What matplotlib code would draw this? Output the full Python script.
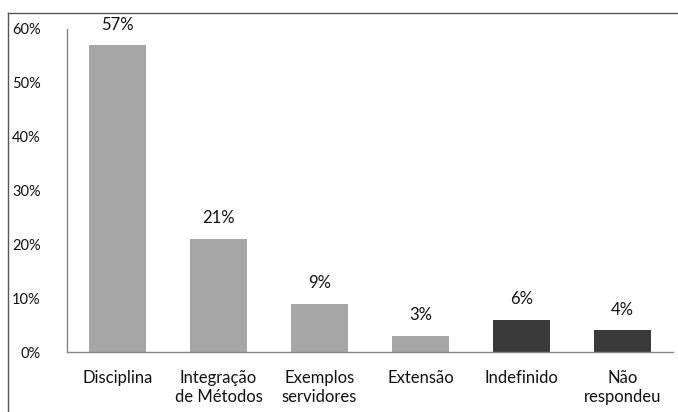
import matplotlib.pyplot as plt
from matplotlib.lines import Line2D
import matplotlib.ticker as ticker

categories = ['Disciplina', 'Integração\nde Métodos', 'Exemplos\nservidores',
              'Extensão', 'Indefinido', 'Não\nrespondeu']
values = [57, 21, 9, 3, 6, 4]
bar_colors = ['#A6A6A6', '#A6A6A6', '#A6A6A6', '#A6A6A6', '#3A3A3A', '#3A3A3A']
y_ticks = [0, 10, 20, 30, 40, 50, 60]

plt.rcParams['font.family'] = ['Lato', 'DejaVu Sans']

fig = plt.figure(figsize=(6.78, 4.12), dpi=100)
ax = fig.add_axes([67 / 678, 1 - 352 / 412, 606 / 678, (352 - 29) / 412])

x = range(len(categories))
bars = ax.bar(x, values, width=0.57, color=bar_colors, zorder=2)
for bar, v in zip(bars, values):
    ax.annotate(f'{v}%', (bar.get_x() + bar.get_width() / 2, v),
                xytext=(0, 9), textcoords='offset points',
                ha='center', va='bottom', fontsize=12, color='#111111')

ax.set_xlim(-0.5, len(categories) - 0.5)
ax.set_ylim(0, 60)
ax.set_yticks(y_ticks)
ax.yaxis.set_major_formatter(ticker.FuncFormatter(lambda v, p: f'{v:.0f}%'))
ax.set_xticks(list(x))
ax.set_xticklabels(categories, fontsize=12, color='#111111', linespacing=1.25)
ax.tick_params(axis='y', length=0, pad=19, labelsize=10.5, labelcolor='#111111')
ax.tick_params(axis='x', length=0, pad=13)

for side in ['top', 'right']:
    ax.spines[side].set_visible(False)
for side in ['left', 'bottom']:
    ax.spines[side].set_color('#868686')
    ax.spines[side].set_linewidth(1)

# outer frame (left and top edges only visible)
fx0 = 7.5 / 678
fy0 = 1 - 12.5 / 412
fig.add_artist(Line2D([fx0, fx0], [0, fy0], color='#555555', lw=1, transform=fig.transFigure))
fig.add_artist(Line2D([fx0, 1], [fy0, fy0], color='#555555', lw=1, transform=fig.transFigure))

fig.savefig('out.png', dpi=100)
